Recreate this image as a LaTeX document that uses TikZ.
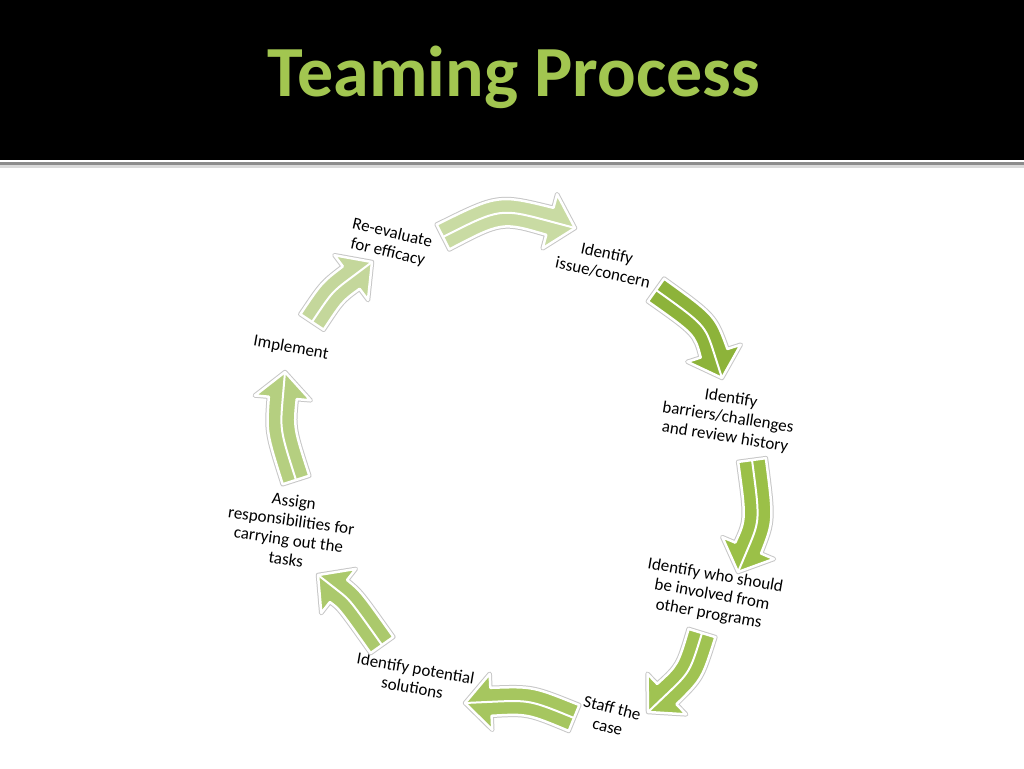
\documentclass[tikz,border=0pt]{standalone}
\usepackage{fontspec}
\usepackage{xcolor}
\setmainfont{Carlito}
\usetikzlibrary{calc}

\definecolor{titlegreen}{RGB}{162,198,80}
\definecolor{greenA}{RGB}{196,215,155}
\definecolor{greenB}{RGB}{201,219,163}
\definecolor{greenC}{RGB}{141,179,58}
\definecolor{greenD}{RGB}{155,192,72}
\definecolor{greenE}{RGB}{160,195,82}
\definecolor{greenF}{RGB}{166,198,95}
\definecolor{greenG}{RGB}{171,201,108}
\definecolor{greenH}{RGB}{181,207,128}

\tikzset{
    lbl/.style={align=center, inner sep=0pt, text=black, font=\fontsize{17}{19.5}\selectfont},
    blockarrow/.style={fill=#1, draw=white, line width=2.5pt, line join=round,
        preaction={draw=black!22, line width=4.5pt, line join=round}}
}

% curved block arrow: colour, tail, bend point, tip
\newcommand{\blockarrow}[4]{%
    \coordinate (bS) at #2;
    \coordinate (bC) at #3;
    \coordinate (bE) at #4;
    \coordinate (bP) at ($(bE)!26pt!(bC)$);
    \coordinate (bSl) at ($(bS)!14pt!90:(bC)$);
    \coordinate (bSr) at ($(bS)!14pt!-90:(bC)$);
    \coordinate (bQl) at ($(bS)!14pt!90:(bP)$);
    \coordinate (bQr) at ($(bS)!14pt!-90:(bP)$);
    \coordinate (bCl) at ($(bC)+(bQl)-(bS)$);
    \coordinate (bCr) at ($(bC)+(bQr)-(bS)$);
    \coordinate (bPl) at ($(bP)!14pt!-90:(bC)$);
    \coordinate (bPr) at ($(bP)!14pt!90:(bC)$);
    \coordinate (bHl) at ($(bP)!28pt!-90:(bC)$);
    \coordinate (bHr) at ($(bP)!28pt!90:(bC)$);
    \draw[blockarrow=#1] (bSl) .. controls (bCl) .. (bPl) -- (bHl) -- (bE) -- (bHr) -- (bPr) .. controls (bCr) .. (bSr) -- cycle;
    \draw[white, line width=2pt] (bS) .. controls (bC) .. (bP) -- (bE);
}

\begin{document}
\begin{tikzpicture}[x=1pt, y=-1pt]

        % Background and header
        \fill[white] (0,0) rectangle (1024,768);
        \fill[black] (0,0) rectangle (1024,160);
        \fill[black!45] (0,162) rectangle (1024,165);
        \fill[black!15] (0,165) rectangle (1024,168);
        \node[anchor=base, text=titlegreen, font=\fontsize{72}{76}\selectfont\bfseries] (title) at (514,96) {Teaming Process};

        % Nodes
        \node[lbl, rotate=-13] (reeval) at (390,243) {Re-evaluate\\for efficacy};
        \node[lbl, rotate=-12] (issue) at (605,263) {Identify\\issue/concern};
        \node[lbl, rotate=-9] (barriers) at (728,418) {Identify\\barriers/challenges\\and review history};
        \node[lbl, rotate=-10] (involved) at (712,595) {Identify who should\\be involved from\\other programs};
        \node[lbl, rotate=-14] (staff) at (610,717) {Staff the\\case};
        \node[lbl, rotate=-10] (solutions) at (414,678) {Identify potential\\solutions};
        \node[lbl, rotate=-8] (assign) at (290,530) {Assign\\responsibilities for\\carrying out the\\tasks};
        \node[lbl, rotate=-10] (implement) at (291,348) {Implement};

        % Arrows
        \blockarrow{greenB}{(443,237)}{(500,208)}{(575,228)}
        \blockarrow{greenC}{(656,290)}{(705,325)}{(722,378)}
        \blockarrow{greenD}{(752,460)}{(760,520)}{(738,572)}
        \blockarrow{greenE}{(702,633)}{(690,672)}{(648,712)}
        \blockarrow{greenF}{(574,718)}{(530,700)}{(465,703)}
        \blockarrow{greenG}{(382,645)}{(350,600)}{(318,575)}
        \blockarrow{greenH}{(296,480)}{(280,430)}{(285,372)}
        \blockarrow{greenA}{(312,322)}{(332,292)}{(372,262)}

\end{tikzpicture}
\end{document}
